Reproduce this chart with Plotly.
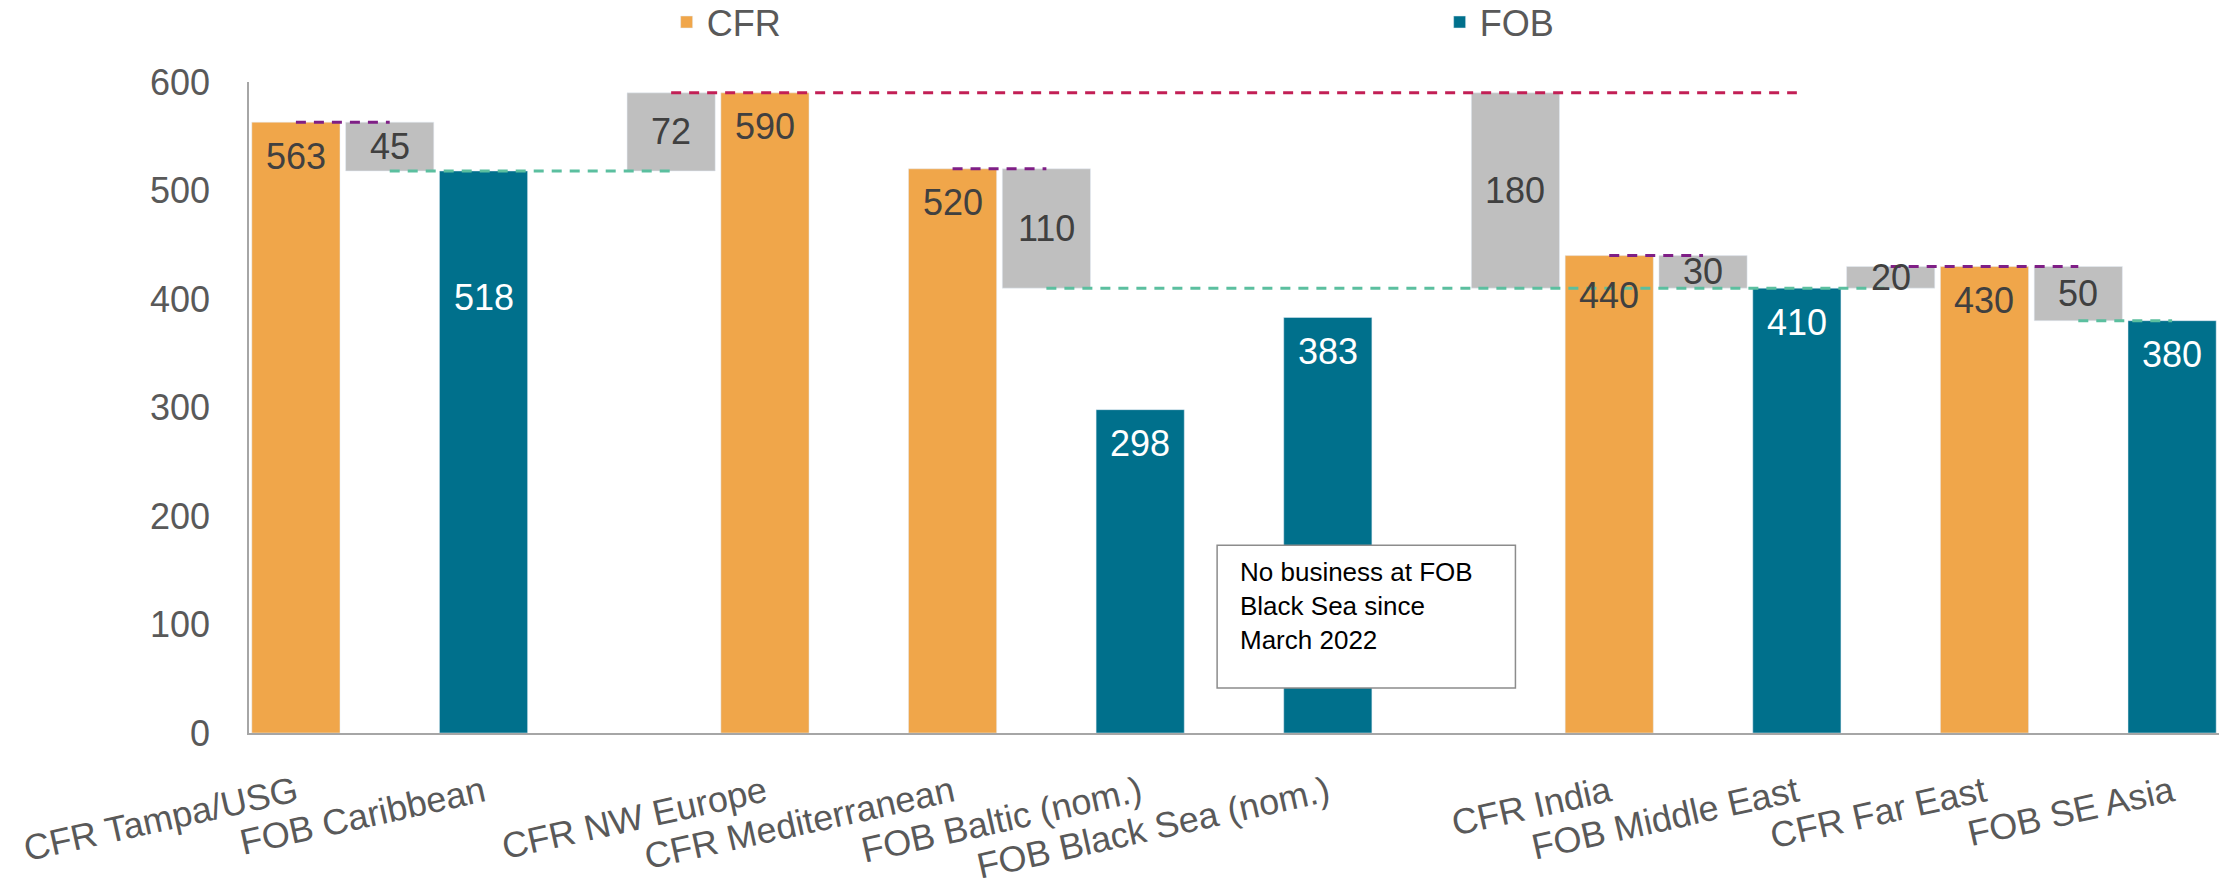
import plotly.graph_objects as go

# Order of the columns along the x axis ("" = empty column)
slot_order = ["CFR Tampa/USG", "Tampa-Caribbean", "FOB Caribbean", "", "NWE-Caribbean",
              "CFR NW Europe", "", "CFR Mediterranean", "Med-ME", "FOB Baltic (nom.)", "",
              "FOB Black Sea (nom.)", "", "NWE-ME", "CFR India", "India-ME", "FOB Middle East",
              "FarEast-ME", "CFR Far East", "FarEast-SEAsia", "FOB SE Asia"]

cfr_names = ["CFR Tampa/USG", "CFR NW Europe", "CFR Mediterranean", "CFR India", "CFR Far East"]
cfr_values = [563, 590, 520, 440, 430]

fob_names = ["FOB Caribbean", "FOB Baltic (nom.)", "FOB Black Sea (nom.)", "FOB Middle East", "FOB SE Asia"]
fob_values = [518, 298, 383, 410, 380]

# grey freight spread bars
spread_names = ["Tampa-Caribbean", "NWE-Caribbean", "Med-ME", "NWE-ME", "India-ME", "FarEast-ME", "FarEast-SEAsia"]
spread_values = [45, 72, 110, 180, 30, 20, 50]
spread_base = [518, 518, 410, 410, 410, 410, 380]

# dashed connector lines
line_values = [563, 518, 590, 520, 410, 440, 430, 380]
line_from = ["CFR Tampa/USG", "Tampa-Caribbean", "NWE-Caribbean", "CFR Mediterranean",
             "Med-ME", "CFR India", "FarEast-ME", "FarEast-SEAsia"]
line_to = ["Tampa-Caribbean", "NWE-Caribbean", "FOB Middle East", "Med-ME",
           "FarEast-ME", "India-ME", "FarEast-SEAsia", "FOB SE Asia"]
line_kind = ["cfr", "fob", "max", "cfr", "fob", "cfr", "cfr", "fob"]

note_text = "No business at FOB<br>Black Sea since<br>March 2022"

# styling
FONT = "Arial, Liberation Sans, sans-serif"
CFR_COLOR = "#F0A64A"
FOB_COLOR = "#00708C"
GREY = "#BFBFBF"
line_colors = {"cfr": "#7F1F86", "fob": "#5BBF9F", "max": "#C21F55"}
label_drop = 34                                   # px below bar top
label_extra = {"FOB Caribbean": 93, "CFR India": 6}  # manual nudges as in original

pos = lambda n: slot_order.index(n)

fig = go.Figure()

fig.add_trace(go.Bar(name="CFR", x=[pos(n) for n in cfr_names], y=cfr_values,
                     width=0.94, marker_color=CFR_COLOR, hoverinfo="skip"))
fig.add_trace(go.Bar(name="FOB", x=[pos(n) for n in fob_names], y=fob_values,
                     width=0.94, marker_color=FOB_COLOR, hoverinfo="skip"))
fig.add_trace(go.Bar(name="spread", x=[pos(n) for n in spread_names], y=spread_values,
                     base=spread_base, width=0.94, marker_color=GREY,
                     showlegend=False, hoverinfo="skip"))

for v, a, b, k in zip(line_values, line_from, line_to, line_kind):
    fig.add_trace(go.Scatter(x=[pos(a), pos(b)], y=[v, v], mode="lines",
                             line=dict(color=line_colors[k], width=3, dash="10px,8px"),
                             showlegend=False, hoverinfo="skip"))

annotations = []
for names, values, color in [(cfr_names, cfr_values, "#404040"), (fob_names, fob_values, "white")]:
    for n, v in zip(names, values):
        annotations.append(dict(x=pos(n), y=v, text=str(v), showarrow=False, yanchor="middle",
                                yshift=-(label_drop + label_extra.get(n, 0)),
                                font=dict(family=FONT, size=36, color=color)))
for n, v, b in zip(spread_names, spread_values, spread_base):
    annotations.append(dict(x=pos(n), y=b + v / 2, text=str(v), showarrow=False, yanchor="middle",
                            font=dict(family=FONT, size=36, color="#404040")))

# note box
annotations.append(dict(x=10.04, y=164, xanchor="left", yanchor="top", text=note_text,
                        align="left", showarrow=False,
                        font=dict(family=FONT, size=26, color="black")))

fig.add_shape(type="rect", x0=9.82, x1=13.0, y0=41.5, y1=173, xref="x", yref="y",
              line=dict(color="#8C8C8C", width=1.5), fillcolor="white", layer="above")

ticktext = [n if (n in cfr_names or n in fob_names) else "" for n in slot_order]

# page body has an 8px margin, so the figure is sized/offset to compensate
fig.update_layout(
    width=2211, height=871,
    margin=dict(l=241, r=0, t=74, b=146, autoexpand=False),
    plot_bgcolor="white", paper_bgcolor="white",
    barmode="overlay",
    font=dict(family=FONT, size=36, color="#595959"),
    annotations=annotations,
    legend=dict(orientation="h", x=0.212, xanchor="left", y=1.092, yanchor="middle",
                entrywidth=728, entrywidthmode="pixels",
                font=dict(family=FONT, size=36, color="#595959")),
    xaxis=dict(range=[-0.5, 20.5], tickmode="array", tickvals=list(range(len(slot_order))),
               ticktext=ticktext, tickangle=-12.5, showgrid=False, zeroline=False,
               showline=True, linecolor="#A6A6A6", linewidth=2, ticks="",
               ticklabelstandoff=23, automargin=False,
               tickfont=dict(family=FONT, size=36, color="#595959")),
    yaxis=dict(range=[0, 600], tickvals=[0, 100, 200, 300, 400, 500, 600],
               showgrid=False, zeroline=False, showline=True, linecolor="#A6A6A6",
               linewidth=1.5, ticks="", ticklabelstandoff=30, automargin=False,
               tickfont=dict(family=FONT, size=36, color="#595959")),
)

fig.write_html("out.html")
